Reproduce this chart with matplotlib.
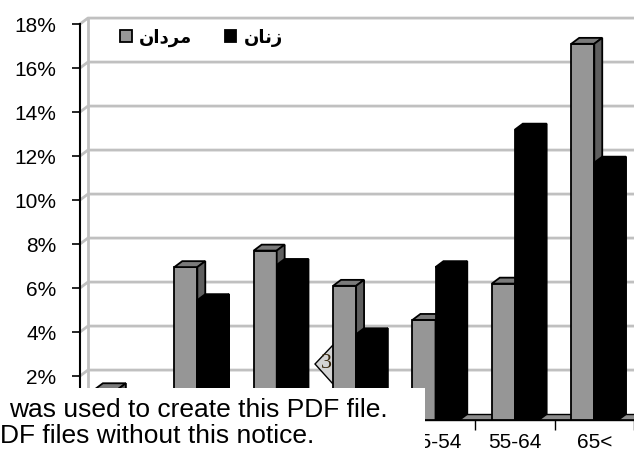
import matplotlib
matplotlib.use('Agg')
import matplotlib.pyplot as plt
from matplotlib.patches import Polygon, Rectangle
import numpy as np

plt.rcParams['font.family'] = ['Liberation Sans', 'DejaVu Sans']

# data (percent)
categories = ['<15', '15-24', '25-34', '35-44', '45-54', '55-64', '65<']
men = [1.4, 6.95, 7.7, 6.1, 4.55, 6.2, 17.1]      # grey
women = [0.8, 5.45, 7.05, 3.9, 6.95, 13.2, 11.7]  # black
series_names = ['مردان', 'زنان']
yticks = np.arange(0, 19, 2)

# minimal arabic shaping (presentation forms) for the legend words
forms = {
    'ا': ('\uFE8D', '\uFE8E', None, None),
    'د': ('\uFEA9', '\uFEAA', None, None),
    'ر': ('\uFEAD', '\uFEAE', None, None),
    'ز': ('\uFEAF', '\uFEB0', None, None),
    'م': ('\uFEE1', '\uFEE2', '\uFEE3', '\uFEE4'),
    'ن': ('\uFEE5', '\uFEE6', '\uFEE7', '\uFEE8'),
}

def shape(word):
    out = []
    for i, ch in enumerate(word):
        iso, fin, ini, med = forms[ch]
        prev = i > 0 and forms[word[i - 1]][2] is not None
        nxt = i < len(word) - 1 and ini is not None
        if prev and nxt:
            out.append(med)
        elif prev:
            out.append(fin)
        elif nxt:
            out.append(ini)
        else:
            out.append(iso)
    return ''.join(reversed(out))

DX, DY = 0.1, 0.27   # fake depth of the 3d bars
W = 0.29
xmin, xmax = -0.478, 6.49

fig = plt.figure(figsize=(6.34, 4.55), dpi=100)
ax = fig.add_axes([80 / 634, 35 / 455, 554 / 634, 396 / 455])
ax.set_xlim(xmin, xmax)
ax.set_ylim(0, 18)

x = np.arange(len(categories))

# back wall + gridlines
for v in yticks:
    if v == 0:
        continue
    ax.plot([xmin, xmin + DX, xmax + 1], [v, v + DY, v + DY], color='#c0c0c0', lw=2, zorder=1, clip_on=False)
ax.plot([xmin + DX, xmin + DX], [DY, 18 + DY], color='#c0c0c0', lw=2, zorder=1, clip_on=False)

# floor
ax.add_patch(Polygon([(xmin, 0), (xmax + 1, 0), (xmax + 1, DY), (xmin + DX, DY)],
                     fc='#8c8c8c', ec='black', lw=1, zorder=2, clip_on=False))

# the little page marker
pts = np.array([(333, 345), (315, 364), (333, 384), (351, 364)], float)
pts[:, 0] /= 634
pts[:, 1] = (455 - pts[:, 1]) / 455
ax.add_patch(Polygon(pts, closed=True, fc='#d4d4d4', ec='black', lw=1,
                     transform=fig.transFigure, zorder=2.5, clip_on=False))
ax.text(326 / 634, (455 - 364) / 455, '3', transform=fig.transFigure, fontsize=16,
        family='Liberation Serif', color='#3a2a10', ha='center', va='center', zorder=2.6)

bars_m = ax.bar(x - W, men, W, align='edge', color='#969696', edgecolor='black', lw=1.3, zorder=3,
                label=shape(series_names[0]))
bars_w = ax.bar(x, women, W + 0.01, align='edge', color='black', edgecolor='black', lw=1.3, zorder=4,
                label=shape(series_names[1]))

def faces(x0, w, h, top, side, z):
    ax.add_patch(Polygon([(x0, h), (x0 + w, h), (x0 + w + DX, h + DY), (x0 + DX, h + DY)],
                         fc=top, ec='black', lw=1.3, zorder=z, clip_on=False))
    ax.add_patch(Polygon([(x0 + w, 0), (x0 + w + DX, DY), (x0 + w + DX, h + DY), (x0 + w, h)],
                         fc=side, ec='black', lw=1.3, zorder=z, clip_on=False))

for i in range(len(categories)):
    faces(x[i] - W, W, men[i], '#7a7a7a', '#5f5f5f', 3)
    faces(x[i], W + 0.01, women[i], 'black', 'black', 4)

# axes styling
for s in ['top', 'right']:
    ax.spines[s].set_visible(False)
ax.spines['left'].set_linewidth(1.5)
ax.spines['bottom'].set_linewidth(1.2)
ax.set_yticks(yticks)
ax.set_yticklabels(['%d%%' % v for v in yticks], fontsize=15)
ax.tick_params(axis='y', length=6, width=1.2, pad=11)
ax.set_xticks(x)
ax.set_xticklabels(categories, fontsize=15)
ax.set_xticks(x + 0.5, minor=True)
ax.tick_params(axis='x', which='major', length=0, pad=9)
ax.tick_params(axis='x', which='minor', length=7, width=1)

# labels that sit under the pasted notice box are not seen in the original
ax.get_yticklabels()[0].set_visible(False)
for lab in ax.get_xticklabels()[:4]:
    lab.set_visible(False)

leg = ax.legend(handles=[bars_m, bars_w], loc='center left', bbox_to_anchor=(0.072, 0.965),
                ncol=2, frameon=False, borderpad=0, borderaxespad=0,
                handlelength=0.65, handleheight=0.65, handletextpad=0.4, columnspacing=1.8,
                prop={'size': 13, 'weight': 'bold'})

# white notice box pasted over the bottom left
fig.add_artist(Rectangle((0, 0), 425 / 634, (455 - 388) / 455, transform=fig.transFigure,
                         fc='white', ec='none', zorder=10))
fig.text(9 / 634, (455 - 417) / 455, 'was used to create this PDF file.', fontsize=19,
         va='baseline', ha='left', zorder=11)
fig.text(0 / 634, (455 - 443) / 455, 'DF files without this notice.', fontsize=19,
         va='baseline', ha='left', zorder=11)

fig.savefig('out.png', dpi=100)
